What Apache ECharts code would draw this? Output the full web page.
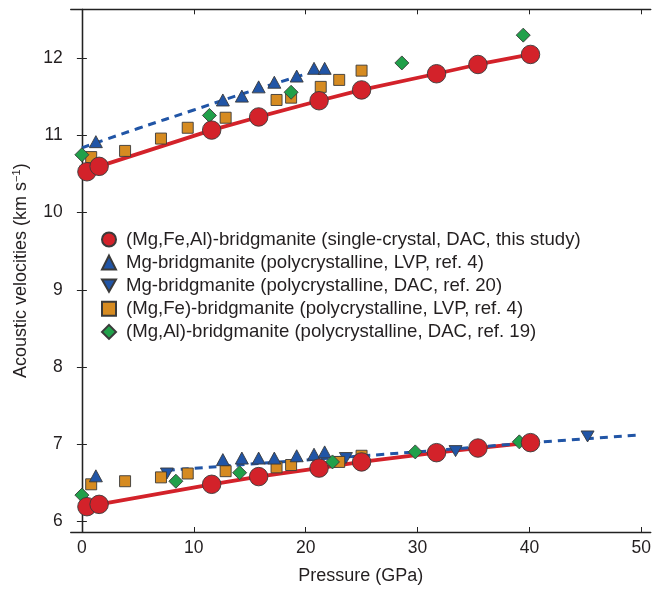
<!DOCTYPE html>
<html>
<head>
<meta charset="utf-8">
<script src="https://cdn.jsdelivr.net/npm/echarts@6/dist/echarts.min.js"></script>
<style>
  html, body { margin: 0; padding: 0; background: #ffffff; }
  #chart { width: 654px; height: 590px; }
</style>
</head>
<body>
<div id="chart"></div>
<script>
// Axis ticks
const xTicks = [0, 10, 20, 30, 40, 50];
const yTicks = [6, 7, 8, 9, 10, 11, 12];

// Legend names
const nameSC  = '(Mg,Fe,Al)-bridgmanite (single-crystal, DAC, this study)';
const nameMgL = 'Mg-bridgmanite (polycrystalline, LVP, ref. 4)';
const nameMgD = 'Mg-bridgmanite (polycrystalline, DAC, ref. 20)';
const nameFe  = '(Mg,Fe)-bridgmanite (polycrystalline, LVP, ref. 4)';
const nameAl  = '(Mg,Al)-bridgmanite (polycrystalline, DAC, ref. 19)';

// (Mg,Fe,Al)-bridgmanite, single crystal: pressure (GPa), VP and VS (km/s)
const scP  = [0.45, 1.54, 11.6, 15.8, 21.2, 25.0, 31.7, 35.4, 40.1];
const scVp = [10.53, 10.60, 11.07, 11.24, 11.45, 11.59, 11.80, 11.92, 12.05];
const scVs = [6.19, 6.22, 6.48, 6.58, 6.69, 6.77, 6.89, 6.95, 7.02];

// Mg-bridgmanite, LVP (ref. 4)
const mgLP  = [1.25, 12.6, 14.3, 15.8, 17.2, 19.2, 20.75, 21.7];
const mgLVp = [10.92, 11.46, 11.51, 11.63, 11.69, 11.77, 11.87, 11.87];
const mgLVs = [6.59, 6.80, 6.82, 6.82, 6.82, 6.85, 6.87, 6.90];

// Mg-bridgmanite, DAC (ref. 20): VS only
const mgDP  = [7.6, 23.6, 33.4, 45.2];
const mgDVs = [6.62, 6.82, 6.91, 7.10];

// (Mg,Fe)-bridgmanite, LVP (ref. 4)
const feP_vp = [0.83, 3.86, 7.07, 9.46, 12.85, 17.4, 18.7, 21.35, 23.0, 25.0];
const feVp   = [10.72, 10.80, 10.96, 11.10, 11.23, 11.46, 11.49, 11.63, 11.72, 11.84];
const feP_vs = [0.83, 3.86, 7.07, 9.46, 12.85, 17.4, 18.7, 23.0, 25.0];
const feVs   = [6.48, 6.52, 6.57, 6.62, 6.65, 6.70, 6.73, 6.77, 6.85];

// (Mg,Al)-bridgmanite, DAC (ref. 19)
const alP_vp = [0.0, 11.4, 18.7, 28.6, 39.45];
const alVp   = [10.75, 11.26, 11.56, 11.94, 12.30];
const alP_vs = [0.0, 8.4, 14.1, 22.4, 29.8, 39.1];
const alVs   = [6.34, 6.52, 6.63, 6.77, 6.90, 7.03];

// Dashed fit curves for Mg-bridgmanite
const fitVpP = [0.0, 5.0, 10.0, 15.0, 20.1];
const fitVp  = [10.84, 11.09, 11.33, 11.57, 11.80];
const fitVsP = [7.6, 19.5, 29.9, 41.2, 50.0];
const fitVs  = [6.66, 6.79, 6.90, 7.03, 7.12];

const zip = (xs, ys) => xs.map((x, i) => [x, ys[i]]);

const RED = '#d3222a', BLUE = '#2155a6', ORANGE = '#d68b21', GREEN = '#21a04a';
const EDGE = { borderColor: '#3a3a3a', borderWidth: 0.9, opacity: 1 };
const FONT = '"Liberation Sans", Arial, Helvetica, sans-serif';
const TXT = '#231f20';

const chart = echarts.init(document.getElementById('chart'), null, { renderer: 'canvas' });

const axisLine = { show: true, lineStyle: { color: '#222', width: 1.3 } };
const tickStyle = { show: true, inside: true, length: 5, lineStyle: { color: '#222', width: 1 } };

const xAxisBase = { type: 'value', min: -1, max: 50.85, splitLine: { show: false } };
const yAxisBase = { type: 'value', min: 5.862, max: 12.635, splitLine: { show: false } };

chart.setOption({
  animation: false,
  backgroundColor: '#ffffff',
  textStyle: { fontFamily: FONT },
  grid: { left: 70.7, right: 2, top: 9.3, bottom: 56.7, containLabel: false },
  legend: {
    orient: 'vertical',
    left: 101, top: 230, padding: 0,
    itemWidth: 14, itemHeight: 14, itemGap: 4.1,
    textStyle: { fontFamily: FONT, fontSize: 18.6, color: TXT, padding: [0, 0, 0, 5] },
    data: [nameSC, nameMgL, nameMgD, nameFe, nameAl]
  },
  xAxis: [
    Object.assign({}, xAxisBase, {
      position: 'bottom',
      name: 'Pressure (GPa)', nameLocation: 'middle', nameGap: 35,
      nameTextStyle: { fontFamily: FONT, fontSize: 18, color: TXT },
      axisLine: axisLine,
      axisTick: Object.assign({}, tickStyle, { customValues: xTicks }),
      axisLabel: { customValues: xTicks, fontFamily: FONT, fontSize: 17.5, color: TXT, margin: 7 }
    }),
    Object.assign({}, xAxisBase, {
      position: 'top',
      axisLine: axisLine,
      axisTick: Object.assign({}, tickStyle, { customValues: xTicks }),
      axisLabel: { show: false }
    })
  ],
  yAxis: [
    Object.assign({}, yAxisBase, {
      position: 'left',
      name: 'Acoustic velocities (km s{sup|−1})', nameLocation: 'middle', nameGap: 40,
      nameRotate: 90,
      nameTextStyle: {
        fontFamily: FONT, fontSize: 18, color: TXT,
        rich: { sup: { fontFamily: FONT, fontSize: 11, color: TXT, verticalAlign: 'top', padding: [0, 0, 8, 0] } }
      },
      axisLine: axisLine,
      axisTick: Object.assign({}, tickStyle, { customValues: yTicks }),
      axisLabel: { customValues: yTicks, fontFamily: FONT, fontSize: 17.5, color: TXT, margin: 8 }
    }),
    Object.assign({}, yAxisBase, {
      position: 'right',
      axisLine: axisLine,
      axisTick: Object.assign({}, tickStyle, { customValues: yTicks }),
      axisLabel: { show: false }
    })
  ],
  series: [
    // solid fits through the single-crystal data
    { type: 'line', data: zip(scP, scVp), showSymbol: false, symbol: 'none', z: 2,
      lineStyle: { color: RED, width: 3.8 }, silent: true },
    { type: 'line', data: zip(scP, scVs), showSymbol: false, symbol: 'none', z: 2,
      lineStyle: { color: RED, width: 3.8 }, silent: true },
    // dashed Mg-bridgmanite trends
    { type: 'line', data: zip(fitVpP, fitVp), showSymbol: false, symbol: 'none', z: 3, smooth: true,
      lineStyle: { color: BLUE, width: 3, type: [8, 6] }, silent: true },
    { type: 'line', data: zip(fitVsP, fitVs), showSymbol: false, symbol: 'none', z: 3, smooth: true,
      lineStyle: { color: BLUE, width: 3, type: [8, 6] }, silent: true },
    // data points
    { name: nameMgD, type: 'scatter', z: 4, symbol: 'path://M0,0 L10,0 L5,8.7 Z', symbolSize: [13, 11],
      itemStyle: Object.assign({ color: BLUE }, EDGE), data: zip(mgDP, mgDVs) },
    { name: nameFe, type: 'scatter', z: 5, symbol: 'rect', symbolSize: 11,
      itemStyle: Object.assign({ color: ORANGE }, EDGE),
      data: zip(feP_vp, feVp).concat(zip(feP_vs, feVs)) },
    { name: nameMgL, type: 'scatter', z: 6, symbol: 'triangle', symbolSize: [13, 12],
      itemStyle: Object.assign({ color: BLUE }, EDGE),
      data: zip(mgLP, mgLVp).concat(zip(mgLP, mgLVs)) },
    { name: nameAl, type: 'scatter', z: 7, symbol: 'diamond', symbolSize: [14, 14],
      itemStyle: Object.assign({ color: GREEN }, EDGE),
      data: zip(alP_vp, alVp).concat(zip(alP_vs, alVs)) },
    { name: nameSC, type: 'scatter', z: 8, symbol: 'circle', symbolSize: 18.5,
      itemStyle: Object.assign({ color: RED }, EDGE),
      data: zip(scP, scVp).concat(zip(scP, scVs)) }
  ]
});
</script>
</body>
</html>
